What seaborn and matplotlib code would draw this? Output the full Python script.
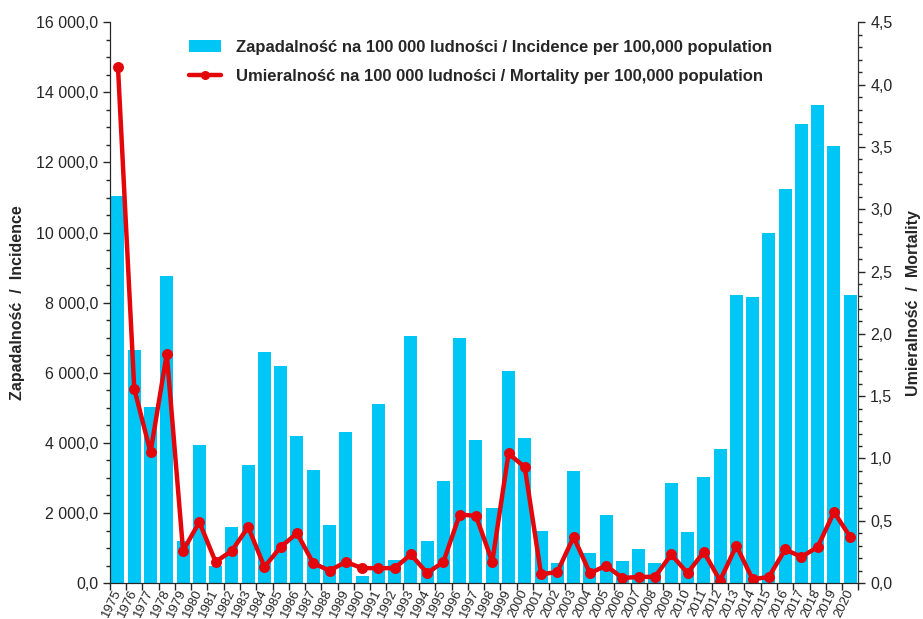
import numpy as np
import pandas as pd
import matplotlib
matplotlib.use("Agg")
import matplotlib.pyplot as plt
from matplotlib.ticker import FuncFormatter, MultipleLocator
from matplotlib.patches import Patch
from matplotlib.lines import Line2D
import seaborn as sns

years = [str(y) for y in range(1975, 2021)]
incidence = [11050, 6650, 5020, 8750, 1200, 3950, 480, 1600, 3370, 6600,
             6200, 4200, 3220, 1650, 4300, 200, 5100, 650, 7050, 1200,
             2900, 7000, 4080, 2140, 6050, 4140, 1480, 570, 3190, 860,
             1940, 630, 970, 570, 2850, 1450, 3020, 3820, 8210, 8160,
             9990, 11230, 13100, 13630, 12460, 8230]
mortality = [4.14, 1.56, 1.05, 1.84, 0.26, 0.49, 0.17, 0.26, 0.45, 0.13,
             0.29, 0.40, 0.16, 0.10, 0.17, 0.12, 0.12, 0.12, 0.23, 0.08,
             0.17, 0.55, 0.54, 0.17, 1.04, 0.93, 0.07, 0.09, 0.37, 0.08,
             0.14, 0.04, 0.05, 0.05, 0.23, 0.08, 0.25, 0.02, 0.30, 0.03,
             0.05, 0.27, 0.21, 0.29, 0.57, 0.37]

label_inc = "Zapadalność na 100 000 ludności / Incidence per 100,000 population"
label_mort = "Umieralność na 100 000 ludności / Mortality per 100,000 population"
ylabel_left = "Zapadalność  /  Incidence"
ylabel_right = "Umieralność  /  Mortality"

df = pd.DataFrame({"year": years, "incidence": incidence, "mortality": mortality})

sns.set_style("ticks")
plt.rcParams["font.family"] = ["Liberation Sans", "DejaVu Sans"]

BAR = "#00C6F6"
RED = "#E3060B"

fig = plt.figure(figsize=(9.23, 6.19), dpi=100)
ax = fig.add_axes([0.119, 0.058, 0.811, 0.906])

sns.barplot(data=df, x="year", y="incidence", ax=ax, color=BAR, width=0.8,
            saturation=1, edgecolor="none")
n = len(years)
ax.set_xlim(-0.5, n - 0.5)
ax.set_ylim(0, 16000)
ax.yaxis.set_major_locator(MultipleLocator(2000))
ax.yaxis.set_minor_locator(MultipleLocator(500))
ax.yaxis.set_major_formatter(FuncFormatter(
    lambda v, p: f"{v:,.1f}".replace(",", " ").replace(".", ",")))
ax.tick_params(axis="y", which="major", length=5, labelsize=11.5, width=1)
ax.tick_params(axis="y", which="minor", length=3, width=1)
ax.set_xticks(np.arange(n))
ax.set_xticklabels(years, rotation=64, ha="right", va="center",
                   rotation_mode="anchor", fontsize=9.5)
ax.tick_params(axis="x", which="major", length=0, pad=5)
ax.set_xticks(np.arange(n + 1) - 0.5, minor=True)
ax.tick_params(axis="x", which="minor", length=5, width=1)
ax.set_xlabel("")
ax.set_ylabel(ylabel_left, fontsize=11.5, fontweight="bold", labelpad=8)
for s in ["left", "bottom", "right"]:
    ax.spines[s].set_color("#333333")
ax.spines["top"].set_visible(False)

ax2 = ax.twinx()
sns.pointplot(data=df, x="year", y="mortality", ax=ax2, color=RED,
              markers="o", markersize=5.5, linewidth=3.2, errorbar=None)
ax2.set_xlim(-0.5, n - 0.5)
ax2.set_ylim(0, 4.5)
ax2.yaxis.set_major_locator(MultipleLocator(0.5))
ax2.yaxis.set_minor_locator(MultipleLocator(0.1))
ax2.yaxis.set_major_formatter(FuncFormatter(lambda v, p: f"{v:.1f}".replace(".", ",")))
ax2.tick_params(axis="y", which="major", length=5, labelsize=11.5, width=1)
ax2.tick_params(axis="y", which="minor", length=3, width=1)
ax2.set_ylabel(ylabel_right, fontsize=11.5, fontweight="bold", labelpad=10)
ax2.spines["top"].set_visible(False)
ax2.spines["right"].set_color("#333333")

handles = [Patch(facecolor=BAR, edgecolor="none"),
           Line2D([0], [0], color=RED, lw=3.2, marker="o", markersize=5.5)]
leg = ax2.legend(handles, [label_inc, label_mort], loc="upper center",
                 bbox_to_anchor=(0.495, 0.995), frameon=False,
                 prop={"size": 12, "weight": "bold"}, handlelength=1.9,
                 handletextpad=0.9, labelspacing=0.85)

fig.savefig("out.png", dpi=100)
